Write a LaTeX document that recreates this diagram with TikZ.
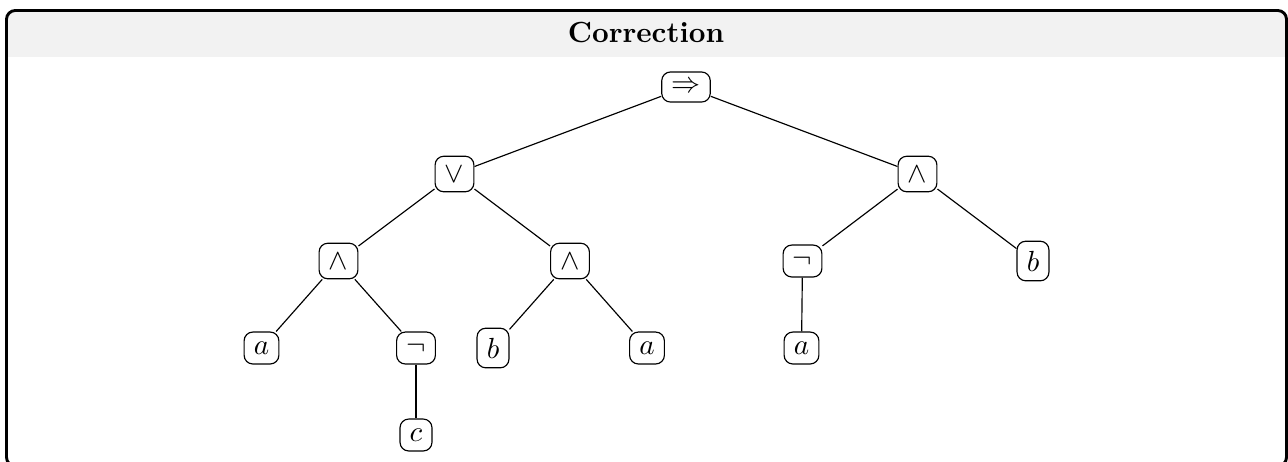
\documentclass[tikz,border=0pt]{standalone}
\usepackage{amssymb}
\begin{document}
\begin{tikzpicture}[x=0.3436pt,y=-0.3436pt,
  tnode/.style={draw, rounded corners=3pt, inner sep=3.333pt, line width=0.4pt},
  link/.style={line width=0.4pt}]
\useasboundingbox (0,0) rectangle (1288,461);
\begin{scope}
\clip[rounded corners=3pt] (6.5,10.5) rectangle (1286.5,466);
\fill[black!5] (0,0) rectangle (1288,57);
\end{scope}
\draw[line width=1pt, rounded corners=3pt] (6.5,10.5) rectangle (1286.5,466);
\node[font=\bfseries] (title) at (646,33) {Correction};
% tree
\node[tnode] (imp) at (686,87) {$\Rightarrow$};
\node[tnode] (or) at (454.5,174) {$\vee$};
\node[tnode] (andR) at (917.5,174) {$\wedge$};
\node[tnode] (andL) at (338.5,261) {$\wedge$};
\node[tnode] (andM) at (570,261) {$\wedge$};
\node[tnode] (notR) at (802.5,261) {$\neg$};
\node[tnode] (bR) at (1033,261) {$b$};
\node[tnode] (a1) at (261.5,348) {$a$};
\node[tnode] (notL) at (416,348) {$\neg$};
\node[tnode] (b1) at (493,348) {$b$};
\node[tnode] (a2) at (647,348) {$a$};
\node[tnode] (a3) at (801.5,348) {$a$};
\node[tnode] (c1) at (416,435) {$c$};
\draw[link] (imp) -- (or);
\draw[link] (imp) -- (andR);
\draw[link] (or) -- (andL);
\draw[link] (or) -- (andM);
\draw[link] (andR) -- (notR);
\draw[link] (andR) -- (bR);
\draw[link] (andL) -- (a1);
\draw[link] (andL) -- (notL);
\draw[link] (andM) -- (b1);
\draw[link] (andM) -- (a2);
\draw[link] (notR) -- (a3);
\draw[link] (notL) -- (c1);
\end{tikzpicture}
\end{document}
